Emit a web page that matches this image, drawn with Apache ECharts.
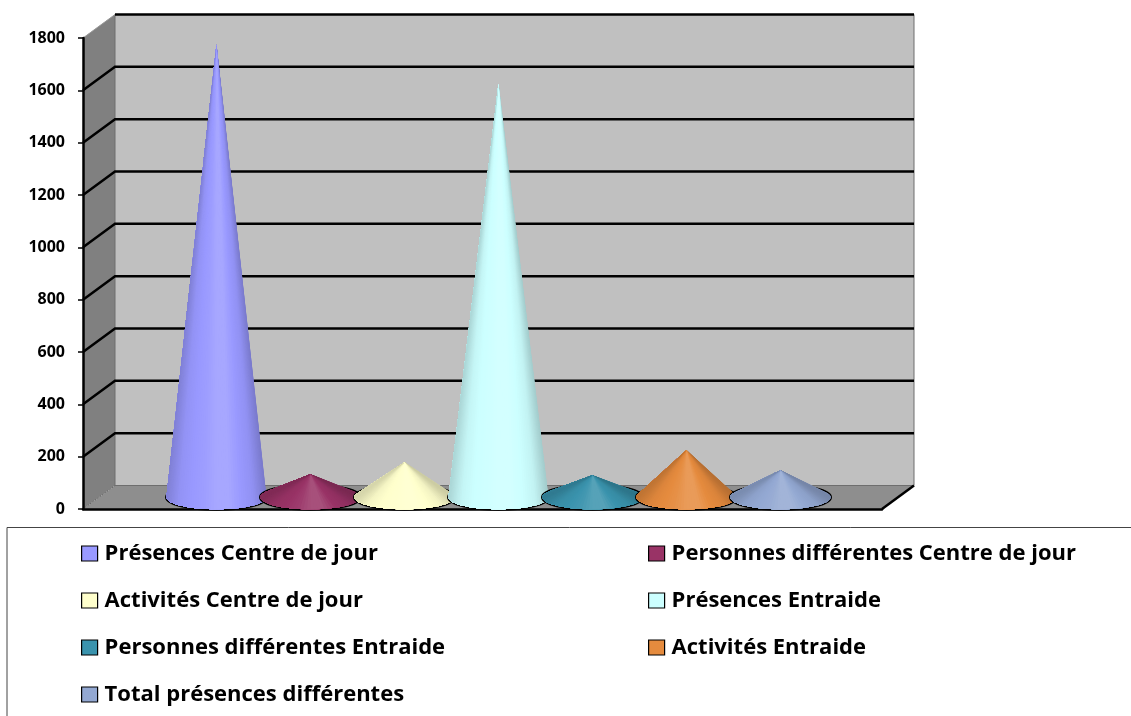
<!DOCTYPE html>
<html>
<head>
<meta charset="utf-8">
<style>
  html, body { margin: 0; padding: 0; background: #fff; }
  #chart { width: 1131px; height: 716px; }
</style>
</head>
<body>
<div id="chart"></div>
<script src="https://cdn.jsdelivr.net/npm/echarts@6/dist/echarts.min.js"></script>
<script>
const categories = [''];
const seriesNames = [
  'Présences Centre de jour',
  'Personnes différentes Centre de jour',
  'Activités Centre de jour',
  'Présences Entraide',
  'Personnes différentes Entraide',
  'Activités Entraide',
  'Total présences différentes'
];
const seriesValues = [1730, 88, 134, 1580, 84, 180, 103];
const seriesColors = ['#9999ff', '#993366', '#ffffcc', '#ccffff', '#3a93ad', '#e58b3e', '#93a8d2'];
const yTicks = [0, 200, 400, 600, 800, 1000, 1200, 1400, 1600, 1800];
const legendLeft = [seriesNames[0], seriesNames[2], seriesNames[4], seriesNames[6]];
const legendRight = [seriesNames[1], seriesNames[3], seriesNames[5]];

// 3d look: depth of the box and cone size, in pixels
const depthX = 32;
const depthY = -23.5;
const coneStep = 94;
const coneRx = 50;
const coneRy = 12;
const coneSlices = 60;

const mix = (c, other, t) => echarts.color.lerp(t, [c, other]);

function shadeRamp(color) {
  return [
    mix(color, '#000', 0.16),
    mix(color, '#000', 0.04),
    color,
    mix(color, '#fff', 0.05),
    mix(color, '#fff', 0.14),
    mix(color, '#fff', 0.14),
    color,
    mix(color, '#000', 0.05),
    mix(color, '#000', 0.2)
  ];
}

function renderFrame(params, api) {
  const center = api.coord([0, 0]);
  const band = api.size([1, 0])[0];
  const x0 = center[0] - band / 2;
  const x1 = center[0] + band / 2;
  const y0 = center[1];
  const yTop = api.coord([0, yTicks[yTicks.length - 1]])[1];
  const children = [
    { type: 'polygon', shape: { points: [[x0, yTop], [x0 + depthX, yTop + depthY], [x1 + depthX, yTop + depthY], [x1 + depthX, y0 + depthY], [x0 + depthX, y0 + depthY], [x0, y0]] }, style: { fill: '#c0c0c0' } },
    { type: 'polygon', shape: { points: [[x0, yTop], [x0 + depthX, yTop + depthY], [x0 + depthX, y0 + depthY], [x0, y0]] }, style: { fill: '#808080' } },
    { type: 'polygon', shape: { points: [[x0, y0], [x0 + depthX, y0 + depthY], [x1 + depthX, y0 + depthY], [x1, y0]] }, style: { fill: '#8e8e8e' } },
    { type: 'polyline', shape: { points: [[x0 + depthX, yTop + depthY], [x0 + depthX, y0 + depthY], [x1 + depthX, y0 + depthY], [x1 + depthX, yTop + depthY]] }, style: { fill: 'none', stroke: '#6e6e6e', lineWidth: 1 } },
    { type: 'line', shape: { x1: x0, y1: yTop, x2: x0 + depthX, y2: yTop + depthY }, style: { stroke: '#9a9a9a', lineWidth: 1 } },
    { type: 'line', shape: { x1: x0, y1: y0, x2: x0 + depthX, y2: y0 + depthY }, style: { stroke: '#555', lineWidth: 1, lineDash: [1, 2] } },
    { type: 'line', shape: { x1: x1, y1: y0, x2: x1 + depthX, y2: y0 + depthY }, style: { stroke: '#000', lineWidth: 2.5 } }
  ];
  yTicks.forEach(function (t, i) {
    if (i === 0) return;
    const y = api.coord([0, t])[1];
    if (i === yTicks.length - 1) {
      children.push({ type: 'line', shape: { x1: x0 + depthX, y1: y + depthY, x2: x1 + depthX, y2: y + depthY }, style: { stroke: '#000', lineWidth: 2.5 } });
    } else {
      children.push({ type: 'polyline', shape: { points: [[x0, y], [x0 + depthX, y + depthY], [x1 + depthX, y + depthY]] }, style: { fill: 'none', stroke: '#000', lineWidth: 2.5 } });
    }
  });
  return { type: 'group', children: children };
}

function renderCone(params, api) {
  const i = params.seriesIndex - 1;
  const base = api.coord([0, 0]);
  const top = api.coord([0, api.value(1)]);
  const cx = base[0] + (i - 3) * coneStep + depthX / 2;
  const cy = base[1] + depthY / 2;
  const h = base[1] - top[1];
  const apex = [cx, cy - h];
  const ramp = shadeRamp(seriesColors[i]);

  // the silhouette leaves the base ellipse at its tangent points
  const startAngle = Math.asin(Math.min(coneRy / h, 0.95));
  const arc = [];
  for (let k = 0; k <= coneSlices; k++) {
    const a = -startAngle + (Math.PI + 2 * startAngle) * k / coneSlices;
    arc.push({ x: cx + coneRx * Math.cos(a), y: cy + coneRy * Math.sin(a), a: a });
  }
  const children = [
    { type: 'ellipse', shape: { cx: cx, cy: cy, rx: coneRx, ry: coneRy }, style: { fill: '#000', stroke: '#000', lineWidth: 3 } }
  ];
  // each slice runs to the end of the arc and the next one paints over it, so no seams show
  for (let k = 0; k < coneSlices; k++) {
    const mid = (arc[k].a + arc[k + 1].a) / 2;
    const rest = arc.slice(k).map(function (p) { return [p.x, p.y]; });
    children.push({
      type: 'polygon',
      shape: { points: [apex].concat(rest) },
      style: { fill: echarts.color.lerp((Math.cos(mid) + 1) / 2, ramp) }
    });
  }
  return { type: 'group', children: children };
}

const legendBase = {
  orient: 'vertical',
  top: 540,
  height: 176,
  padding: 0,
  itemWidth: 16,
  itemHeight: 15,
  itemGap: 20,
  icon: 'rect',
  itemStyle: { borderColor: '#000', borderWidth: 1.2 },
  selectedMode: false,
  textStyle: { fontFamily: 'Open Sans', fontWeight: 'bold', fontSize: 22, color: '#000', lineHeight: 27, padding: [0, 0, 0, 2] }
};

const chart = echarts.init(document.getElementById('chart'), null, { renderer: 'canvas' });
chart.setOption({
  animation: false,
  backgroundColor: '#fff',
  grid: { left: 83, top: 38, width: 799, height: 471 },
  xAxis: {
    type: 'category',
    data: categories,
    axisTick: { show: false },
    axisLabel: { show: false },
    axisLine: { lineStyle: { color: '#000', width: 2.5 } },
    splitLine: { show: false }
  },
  yAxis: {
    type: 'value',
    min: 0,
    max: 1800,
    interval: 200,
    axisLine: { show: true, lineStyle: { color: '#000', width: 2.5 } },
    axisTick: { show: true, length: 5, lineStyle: { color: '#000', width: 1.5 } },
    axisLabel: {
      margin: 18,
      color: '#000',
      fontFamily: 'Open Sans',
      fontWeight: 'bold',
      fontSize: 16,
      formatter: function (v) { return String(v); }
    },
    splitLine: { show: false }
  },
  legend: [
    Object.assign({}, legendBase, { left: 81, data: legendLeft }),
    Object.assign({}, legendBase, { left: 648, data: legendRight })
  ],
  graphic: [{
    type: 'rect',
    shape: { x: 7, y: 527.5, width: 1200, height: 300 },
    style: { fill: 'none', stroke: '#444', lineWidth: 1 },
    silent: true
  }],
  series: [{
    name: 'frame',
    type: 'custom',
    z: -1,
    silent: true,
    data: [[0, 0]],
    encode: { x: 0, y: 1 },
    renderItem: renderFrame
  }].concat(seriesNames.map(function (name, i) {
    return {
      name: name,
      type: 'custom',
      data: [[0, seriesValues[i]]],
      encode: { x: 0, y: 1 },
      itemStyle: { color: seriesColors[i] },
      renderItem: renderCone
    };
  }))
});
</script>
</body>
</html>
